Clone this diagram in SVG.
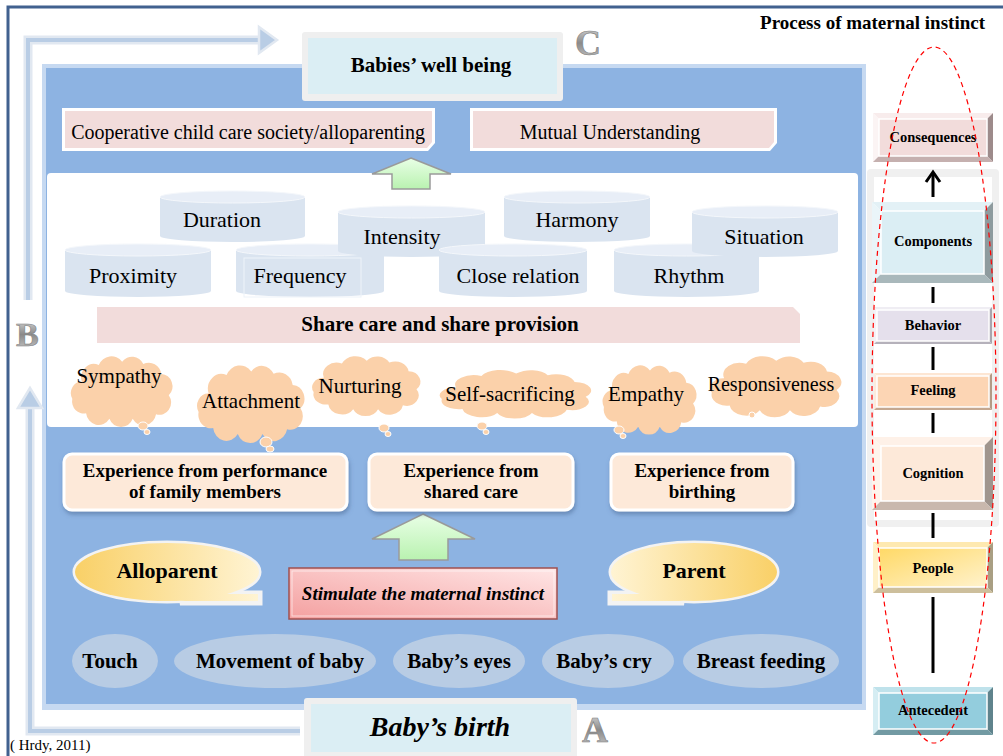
<svg xmlns="http://www.w3.org/2000/svg" width="1003" height="756" viewBox="0 0 1003 756">
<defs>
<style>
text{font-family:"Liberation Serif","Times New Roman",serif;fill:#000}
.b{font-weight:bold}
.i{font-style:italic}
.m{text-anchor:middle}
.cb{fill:#dae4f0}
.ct{fill:#e8eef7;stroke:#f4f7fb;stroke-width:1}
.cloud{fill:#fbd1aa}
.tail{fill:#fbd1aa;stroke:#fff;stroke-width:1}
.exp{fill:#fde9d9;stroke:#fff;stroke-width:3}
.oval{fill:#b8cce4}
.ln{stroke:#000;stroke-width:3;fill:none}
.face{stroke:#fff;stroke-width:1.5}
.pink{fill:#f2dcdb}
.letter{fill:url(#gLetter);stroke:#7f7f7f;stroke-width:0.6;font-weight:bold}
.harr{fill:none;stroke:#e1e8f1;stroke-width:9}
.harr2{fill:none;stroke:#b9cde5;stroke-width:4}
</style>
<linearGradient id="gLetter" x1="0" y1="0" x2="0" y2="1">
<stop offset="0" stop-color="#e6e6e6"/><stop offset="0.5" stop-color="#8a8a8a"/><stop offset="1" stop-color="#cfcfcf"/>
</linearGradient>
<linearGradient id="gGreen" x1="0" y1="0" x2="0" y2="1">
<stop offset="0" stop-color="#e9ffe6"/><stop offset="1" stop-color="#b9f2b0"/>
</linearGradient>
<linearGradient id="gAllo" gradientUnits="userSpaceOnUse" x1="75" y1="0" x2="260" y2="0">
<stop offset="0" stop-color="#f9d067"/><stop offset="1" stop-color="#fff4d4"/>
</linearGradient>
<linearGradient id="gPar" gradientUnits="userSpaceOnUse" x1="610" y1="0" x2="777" y2="0">
<stop offset="0" stop-color="#fff4d4"/><stop offset="1" stop-color="#f9d067"/>
</linearGradient>
<linearGradient id="gPeople" x1="0" y1="0" x2="1" y2="1">
<stop offset="0" stop-color="#ffd966"/><stop offset="1" stop-color="#fff2cc"/>
</linearGradient>
<linearGradient id="gStim" x1="0" y1="1" x2="1" y2="0">
<stop offset="0" stop-color="#f4a0a0"/><stop offset="1" stop-color="#ffe6e6"/>
</linearGradient>
<filter id="sh" x="-10%" y="-20%" width="120%" height="150%">
<feDropShadow dx="1" dy="3" stdDeviation="2" flood-color="#3f5f8a" flood-opacity="0.5"/>
</filter>
<path id="cloudP" d="M14,24 A12,12 0 0 1 30,9 A13,13 0 0 1 52,6 A12,12 0 0 1 72,8 A12,12 0 0 1 89,17 A11,11 0 0 1 96,36 A11,11 0 0 1 84,53 A12,12 0 0 1 62,57 A12,12 0 0 1 40,57 A12,12 0 0 1 18,52 A11,11 0 0 1 5,39 A10,10 0 0 1 14,24 Z"/>
</defs>

<rect x="0" y="0" width="1003" height="756" fill="#fff"/>

<!-- outer frame -->
<g id="frame">
<path d="M8,756 V7 H1003" fill="none" stroke="#41618f" stroke-width="3"/>
<text x="985" y="29" class="b" font-size="19" text-anchor="end">Process of maternal instinct</text>
</g>

<!-- main panel -->
<g id="panel">
<rect x="42" y="64" width="824" height="646" fill="#c6d9f1"/>
<rect x="46" y="68" width="816" height="636" fill="#8db3e2"/>
<rect x="47" y="173" width="811" height="254" rx="4" fill="#fff"/>
</g>

<!-- right column background -->
<g id="process-panel">
<rect x="867" y="169" width="132" height="358" rx="4" fill="#f0f0f0"/>
<rect x="874" y="177" width="118" height="343" fill="#fff"/>
</g>

<!-- connectors -->
<g id="connectors">
<path class="harr" d="M28,300 V40 H262"/>
<path class="harr2" d="M28,300 V40 H262"/>
<polygon points="259,27 277,40 259,53" fill="#b9cde5" stroke="#e1e8f1" stroke-width="2.5"/>
<path class="harr" d="M300,731 H30 V407"/>
<path class="harr2" d="M300,731 H30 V407"/>
<polygon points="18,408 30,388 42,408" fill="#b9cde5" stroke="#e1e8f1" stroke-width="2.5"/>
<polygon points="411,158 451,174 430,174 430,189 392,189 392,174 372,174" fill="url(#gGreen)" stroke="#9a9a9a" stroke-width="1.5"/>
<polygon points="423,514 475,539 448,539 448,560 399,560 399,539 372,539" fill="url(#gGreen)" stroke="#9a9a9a" stroke-width="1.5"/>
<line class="ln" x1="933" y1="197" x2="933" y2="174"/>
<polyline class="ln" points="926,182 933,172 940,182"/>
<line class="ln" x1="933" y1="287" x2="933" y2="303"/>
<line class="ln" x1="933" y1="347" x2="933" y2="370"/>
<line class="ln" x1="933" y1="413" x2="933" y2="433"/>
<line class="ln" x1="933" y1="513" x2="933" y2="538"/>
<line class="ln" x1="933" y1="597" x2="933" y2="673" stroke-width="4"/>
</g>

<text x="575" y="55" class="letter" font-size="36">C</text>
<text x="16" y="346" class="letter" font-size="34">B</text>
<text x="582" y="742" class="letter" font-size="36">A</text>

<g id="babies-well-being">
<rect x="302" y="32" width="261" height="69" rx="3" fill="#efefef"/>
<rect x="308" y="38" width="249" height="56" fill="#dbeef4"/>
<text x="431" y="72" class="b m" font-size="21">Babies’ well being</text>
</g>

<g id="cooperative">
<polygon points="62,108 435,108 435,143 428,151 62,151" fill="#fff"/>
<polygon class="pink" points="65,111 432,111 432,142 427,148 65,148"/>
<text x="248" y="139" class="m" font-size="20">Cooperative child care society/alloparenting</text>
</g>
<g id="mutual">
<polygon points="470,108 777,108 777,143 770,151 470,151" fill="#fff"/>
<polygon class="pink" points="473,111 774,111 774,142 769,148 473,148"/>
<text x="610" y="139" class="m" font-size="20">Mutual Understanding</text>
</g>

<!-- cylinders -->
<g id="duration">
<path class="cb" d="M160,197 V236 A72.5,6 0 0 0 305,236 V197 Z"/>
<ellipse class="ct" cx="232.5" cy="197" rx="72.5" ry="6"/>
<text x="222" y="227" class="m" font-size="22">Duration</text>
</g>
<g id="harmony">
<path class="cb" d="M504,197 V236 A73,6 0 0 0 650,236 V197 Z"/>
<ellipse class="ct" cx="577" cy="197" rx="73" ry="6"/>
<text x="577" y="227" class="m" font-size="22">Harmony</text>
</g>
<g id="proximity">
<path class="cb" d="M65,250 V291 A73,6 0 0 0 211,291 V250 Z"/>
<ellipse class="ct" cx="138" cy="250" rx="73" ry="6"/>
<text x="133" y="283" class="m" font-size="22">Proximity</text>
</g>
<g id="frequency">
<path class="cb" d="M236,250 V291 A74,6 0 0 0 384,291 V250 Z"/>
<ellipse class="ct" cx="310" cy="250" rx="74" ry="6"/>
<rect x="244" y="258" width="117" height="39" fill="none" stroke="#eef3f9" stroke-width="1"/>
<text x="300" y="283" class="m" font-size="22">Frequency</text>
</g>
<g id="intensity">
<path class="cb" d="M338,212 V251 A73.5,6 0 0 0 485,251 V212 Z"/>
<ellipse class="ct" cx="411.5" cy="212" rx="73.5" ry="6"/>
<text x="402" y="244" class="m" font-size="22">Intensity</text>
</g>
<g id="close-relation">
<path class="cb" d="M439,250 V291 A74,6 0 0 0 587,291 V250 Z"/>
<ellipse class="ct" cx="513" cy="250" rx="74" ry="6"/>
<text x="518" y="283" class="m" font-size="22">Close relation</text>
</g>
<g id="rhythm">
<path class="cb" d="M614,250 V291 A72.5,6 0 0 0 759,291 V250 Z"/>
<ellipse class="ct" cx="686.5" cy="250" rx="72.5" ry="6"/>
<text x="689" y="283" class="m" font-size="22">Rhythm</text>
</g>
<g id="situation">
<path class="cb" d="M692,212 V251 A73,6 0 0 0 838,251 V212 Z"/>
<ellipse class="ct" cx="765" cy="212" rx="73" ry="6"/>
<text x="764" y="244" class="m" font-size="22">Situation</text>
</g>

<g id="share-care">
<polygon class="pink" points="97,307 793,307 800,314 800,343 97,343"/>
<text x="440" y="331" class="b m" font-size="21">Share care and share provision</text>
</g>

<!-- clouds -->
<g id="sympathy">
<use href="#cloudP" class="cloud" transform="translate(67,355) scale(1.06,1.12)"/>
<ellipse class="tail" cx="143" cy="426" rx="5" ry="4"/><ellipse class="tail" cx="147" cy="432" rx="3" ry="2.5"/>
<text x="119" y="383" class="m" font-size="21">Sympathy</text>
</g>
<g id="attachment">
<use href="#cloudP" class="cloud" transform="translate(193,364) scale(1.12,1.23)"/>
<ellipse class="tail" cx="266" cy="442" rx="6" ry="5"/><ellipse class="tail" cx="270" cy="449" rx="4" ry="3"/>
<text x="251" y="408" class="m" font-size="21">Attachment</text>
</g>
<g id="nurturing">
<use href="#cloudP" class="cloud" transform="translate(308,355) scale(1.13,0.95)"/>
<ellipse class="tail" cx="384" cy="428" rx="5" ry="4"/><ellipse class="tail" cx="388" cy="434" rx="3" ry="2.5"/>
<text x="360" y="393" class="m" font-size="21">Nurturing</text>
</g>
<g id="self-sacrificing">
<use href="#cloudP" class="cloud" transform="translate(434,369) scale(1.58,0.77)"/>
<ellipse class="tail" cx="482" cy="426" rx="5" ry="4"/><ellipse class="tail" cx="486" cy="432" rx="3" ry="2.5"/>
<text x="510" y="401" class="m" font-size="21">Self-sacrificing</text>
</g>
<g id="empathy">
<use href="#cloudP" class="cloud" transform="translate(599,364) scale(0.98,1.1)"/>
<ellipse class="tail" cx="619" cy="430" rx="5" ry="4"/><ellipse class="tail" cx="623" cy="436" rx="3" ry="2.5"/>
<text x="646" y="401" class="m" font-size="21">Empathy</text>
</g>
<g id="responsiveness">
<use href="#cloudP" class="cloud" transform="translate(705,355) scale(1.37,0.97)"/>
<ellipse class="tail" cx="752" cy="415" rx="3" ry="3"/>
<text x="771" y="391" class="m" font-size="20">Responsiveness</text>
</g>

<!-- experience boxes -->
<g id="exp-family">
<rect class="exp" x="64" y="454" width="283" height="56" rx="8" filter="url(#sh)"/>
<text x="205" y="477" class="b m" font-size="19">Experience from performance</text>
<text x="205" y="498" class="b m" font-size="19">of family members</text>
</g>
<g id="exp-shared">
<rect class="exp" x="369" y="454" width="204" height="56" rx="8" filter="url(#sh)"/>
<text x="471" y="477" class="b m" font-size="19">Experience from</text>
<text x="471" y="498" class="b m" font-size="19">shared care</text>
</g>
<g id="exp-birthing">
<rect class="exp" x="611" y="454" width="182" height="56" rx="8" filter="url(#sh)"/>
<text x="702" y="477" class="b m" font-size="19">Experience from</text>
<text x="702" y="498" class="b m" font-size="19">birthing</text>
</g>

<!-- speech bubbles -->
<g id="alloparent">
<g fill="#f3f3f3" stroke="#f3f3f3" stroke-width="5">
<ellipse cx="167" cy="572" rx="92" ry="29"/>
<polygon points="215,593 260,593 260,603 180,603"/>
</g>
<g fill="url(#gAllo)">
<ellipse cx="167" cy="572" rx="92" ry="29"/>
<polygon points="215,594 258,594 258,601 180,601"/>
</g>
<text x="167" y="578" class="b m" font-size="22">Alloparent</text>
</g>
<g id="parent">
<g fill="#f3f3f3" stroke="#f3f3f3" stroke-width="5">
<ellipse cx="694" cy="572" rx="83" ry="29"/>
<polygon points="652,593 610,593 610,603 684,603"/>
</g>
<g fill="url(#gPar)">
<ellipse cx="694" cy="572" rx="83" ry="29"/>
<polygon points="652,594 612,594 612,601 684,601"/>
</g>
<text x="694" y="578" class="b m" font-size="22">Parent</text>
</g>

<g id="stimulate">
<rect x="289" y="568" width="268" height="51" fill="url(#gStim)" stroke="#a0504f" stroke-width="1.5"/>
<rect x="292" y="571" width="262" height="45" fill="none" stroke="#fff" stroke-opacity="0.6" stroke-width="1"/>
<text x="423" y="600" class="b i m" font-size="19">Stimulate the maternal instinct</text>
</g>

<!-- bottom ovals -->
<g id="touch"><ellipse class="oval" cx="115" cy="661" rx="43" ry="27"/><text x="110" y="668" class="b m" font-size="21">Touch</text></g>
<g id="movement"><ellipse class="oval" cx="275" cy="661" rx="101" ry="27"/><text x="280" y="668" class="b m" font-size="21">Movement of baby</text></g>
<g id="eyes"><ellipse class="oval" cx="459" cy="661" rx="66" ry="27"/><text x="459" y="668" class="b m" font-size="21">Baby’s eyes</text></g>
<g id="cry"><ellipse class="oval" cx="608" cy="661" rx="66" ry="27"/><text x="604" y="668" class="b m" font-size="21">Baby’s cry</text></g>
<g id="breast"><ellipse class="oval" cx="761" cy="661" rx="78" ry="27"/><text x="761" y="668" class="b m" font-size="21">Breast feeding</text></g>

<g id="babys-birth">
<rect x="304" y="698" width="273" height="62" rx="3" fill="#efefef"/>
<rect x="311" y="704" width="260" height="48" fill="#dbeef4"/>
<text x="440" y="736" class="b i m" font-size="28">Baby’s birth</text>
</g>

<text x="10" y="750" font-size="15">( Hrdy, 2011)</text>

<!-- right column -->
<g id="consequences">
<polygon points="873,113 993,113 987,119 879,119" fill="#f8ecec"/>
<polygon points="873,113 879,119 879,156 873,162" fill="#fbf4f4"/>
<polygon points="993,113 993,162 987,156 987,119" fill="#9d8b8b"/>
<polygon points="873,162 993,162 987,156 879,156" fill="#c5b0af"/>
<rect class="face" x="879" y="119" width="108" height="37" fill="#f2dcdb"/>
<text x="933" y="142" class="b m" font-size="14.5">Consequences</text>
</g>
<g id="components">
<polygon points="872,202 993,202 984,211 881,211" fill="#e3f1f6"/>
<polygon points="872,202 881,211 881,274 872,283" fill="#eaf5f9"/>
<polygon points="993,202 993,283 984,274 984,211" fill="#8e9b9e"/>
<polygon points="872,283 993,283 984,274 881,274" fill="#a9b8bb"/>
<rect class="face" x="881" y="211" width="103" height="63" fill="#dbeef4"/>
<text x="933" y="246" class="b m" font-size="14.5">Components</text>
</g>
<g id="behavior">
<polygon points="874,307 992,307 989,310 877,310" fill="#efedf3"/>
<polygon points="874,307 877,310 877,341 874,344" fill="#f4f2f7"/>
<polygon points="992,307 992,344 989,341 989,310" fill="#a9a6ae"/>
<polygon points="874,344 992,344 989,341 877,341" fill="#b5b1bb"/>
<rect class="face" x="877" y="310" width="112" height="31" fill="#e5e0ec"/>
<text x="933" y="330" class="b m" font-size="14.5">Behavior</text>
</g>
<g id="feeling">
<polygon points="874,373 992,373 989,376 877,376" fill="#fde6d3"/>
<polygon points="874,373 877,376 877,407 874,410" fill="#fdebdc"/>
<polygon points="992,373 992,410 989,407 989,376" fill="#b39a85"/>
<polygon points="874,410 992,410 989,407 877,407" fill="#c4a78f"/>
<rect class="face" x="877" y="376" width="112" height="31" fill="#fcd5b4"/>
<text x="933" y="395" class="b m" font-size="14.5">Feeling</text>
</g>
<g id="cognition">
<polygon points="872,437 993,437 984,446 881,446" fill="#fef1e8"/>
<polygon points="872,437 881,446 881,501 872,510" fill="#fef4ec"/>
<polygon points="993,437 993,510 984,501 984,446" fill="#a0958d"/>
<polygon points="872,510 993,510 984,501 881,501" fill="#c9b8ad"/>
<rect class="face" x="881" y="446" width="103" height="55" fill="#fde9d9"/>
<text x="933" y="478" class="b m" font-size="14.5">Cognition</text>
</g>
<g id="people">
<polygon points="873,542 993,542 987,548 879,548" fill="#fee9b0"/>
<polygon points="873,542 879,548 879,587 873,593" fill="#fff0c8"/>
<polygon points="993,542 993,593 987,587 987,548" fill="#a99f83"/>
<polygon points="873,593 993,593 987,587 879,587" fill="#cdbf9c"/>
<rect class="face" x="879" y="548" width="108" height="39" fill="url(#gPeople)"/>
<text x="933" y="573" class="b m" font-size="14.5">People</text>
</g>
<g id="antecedent">
<polygon points="873,687 993,687 987,693 879,693" fill="#bfe2eb"/>
<polygon points="873,687 879,693 879,729 873,735" fill="#d5edf3"/>
<polygon points="993,687 993,735 987,729 987,693" fill="#5f838c"/>
<polygon points="873,735 993,735 987,729 879,729" fill="#729aa3"/>
<rect class="face" x="879" y="693" width="108" height="36" fill="#93cddd"/>
<text x="933" y="715" class="b m" font-size="14.5">Antecedent</text>
</g>

<ellipse id="process-ellipse" cx="934" cy="395" rx="62" ry="348" fill="none" stroke="#ff0000" stroke-width="1.2" stroke-dasharray="5,4"/>
</svg>
